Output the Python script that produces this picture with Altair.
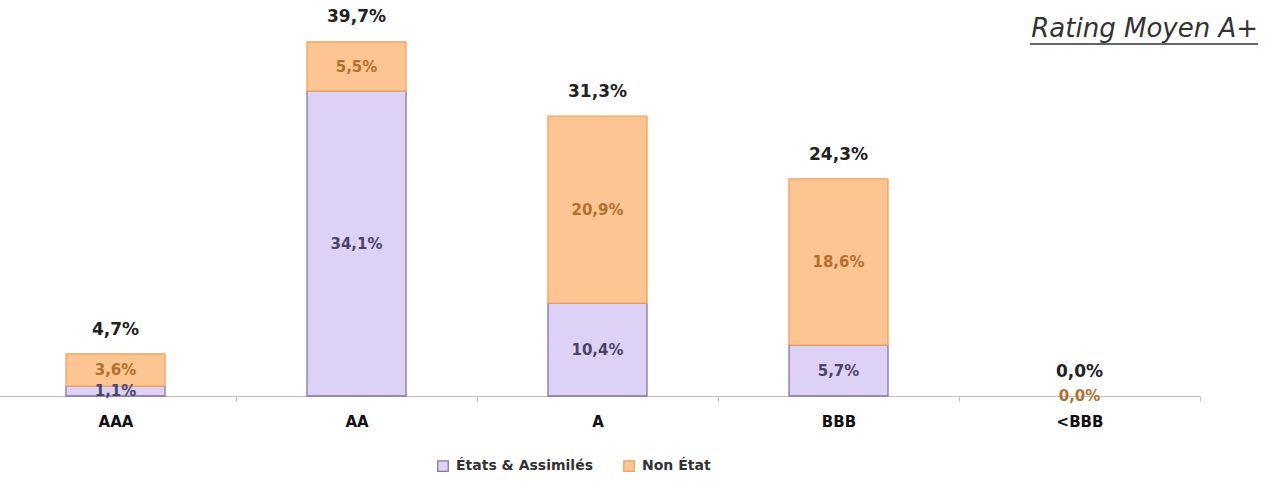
import altair as alt
import pandas as pd

categories = ["AAA", "AA", "A", "BBB", "<BBB"]
etats = [1.1, 34.1, 10.4, 5.7, 0.0]
non_etat = [3.6, 5.5, 20.9, 18.6, 0.0]
totals = [4.7, 39.7, 31.3, 24.3, 0.0]
series = ["États & Assimilés", "Non État"]

def fr(v):
    return f"{v:.1f}".replace(".", ",") + "%"

rows = []
for c, e, n in zip(categories, etats, non_etat):
    rows.append({"cat": c, "serie": series[0], "order": 0, "v0": 0.0, "v1": e, "mid": e / 2, "val": e, "lab": fr(e)})
    rows.append({"cat": c, "serie": series[1], "order": 1, "v0": e, "v1": e + n, "mid": e + n / 2, "val": n, "lab": fr(n)})
df = pd.DataFrame(rows)
tot = pd.DataFrame({"cat": categories, "total": totals, "lab": [fr(t) for t in totals]})

FONT = "DejaVu Sans"
xscale = alt.Scale(domain=categories, range=[-5, 1200], paddingInner=0.0, paddingOuter=0.0)
xenc = alt.X("cat:N", sort=categories, title=None, scale=xscale,
             axis=alt.Axis(labelAngle=0, labelFont=FONT, labelFontWeight="bold", labelFontSize=15,
                           labelColor="#111111", labelPadding=13, domainColor="#c0c0c0",
                           tickColor="#c0c0c0", tickSize=5, tickBand="extent", domainWidth=1.2))
yscale = alt.Scale(domain=[0, 44.3], nice=False, zero=True)

bars = alt.Chart(df).mark_bar(width=99, strokeWidth=1.3).encode(
    x=xenc,
    y=alt.Y("v0:Q", scale=yscale, axis=None),
    y2="v1:Q",
    color=alt.Color("serie:N", sort=series, title=None,
                    scale=alt.Scale(domain=series, range=["#ddd2f6", "#fcc592"]),
                    legend=alt.Legend(orient="none", legendX=436, legendY=459, direction="horizontal",
                                      labelFont=FONT, labelFontWeight="bold", labelFontSize=14,
                                      labelColor="#333333", symbolType="square", symbolSize=110,
                                      symbolStrokeWidth=1.3, columnPadding=28, labelOffset=6)),
    stroke=alt.Stroke("serie:N", sort=series, title=None,
                      scale=alt.Scale(domain=series, range=["#85769f", "#f2a35e"])),
    strokeOpacity=alt.condition("datum.val > 0", alt.value(1), alt.value(0)),
    order=alt.Order("order:Q"),
)

inner = alt.Chart(df).transform_filter("datum.order == 1 || datum.val > 0").mark_text(
    font=FONT, fontWeight="bold", fontSize=15, baseline="middle").encode(
    x=alt.X("cat:N", sort=categories, scale=xscale),
    y=alt.Y("mid:Q", scale=yscale),
    text="lab:N",
    color=alt.condition("datum.order == 0", alt.value("#4b4468"), alt.value("#b36f2c")),
)

top = alt.Chart(tot).mark_text(font=FONT, fontWeight="bold", fontSize=17, baseline="middle",
                               dy=-24, color="#222222").encode(
    x=alt.X("cat:N", sort=categories, scale=xscale),
    y=alt.Y("total:Q", scale=yscale),
    text="lab:N",
)

title = alt.Chart(pd.DataFrame({"t": ["Rating Moyen A+"]})).mark_text(
    font="DejaVu Sans", fontStyle="italic", fontSize=26, align="right", baseline="alphabetic",
    color="#333333").encode(x=alt.value(1258), y=alt.value(37), text="t:N")
underline = alt.Chart(pd.DataFrame({"a": [0]})).mark_rule(color="#333333", strokeWidth=1.5).encode(
    x=alt.value(1030), x2=alt.value(1258), y=alt.value(44))

chart = alt.layer(bars, inner, top, title, underline).properties(
    width=1205, height=396,
    autosize=alt.AutoSizeParams(type="none"),
    padding={"left": 0, "top": 0, "right": 65, "bottom": 88},
).configure(background="white").configure_view(stroke=None)

chart.save("out.html", embed_options={"renderer": "svg", "actions": False})
